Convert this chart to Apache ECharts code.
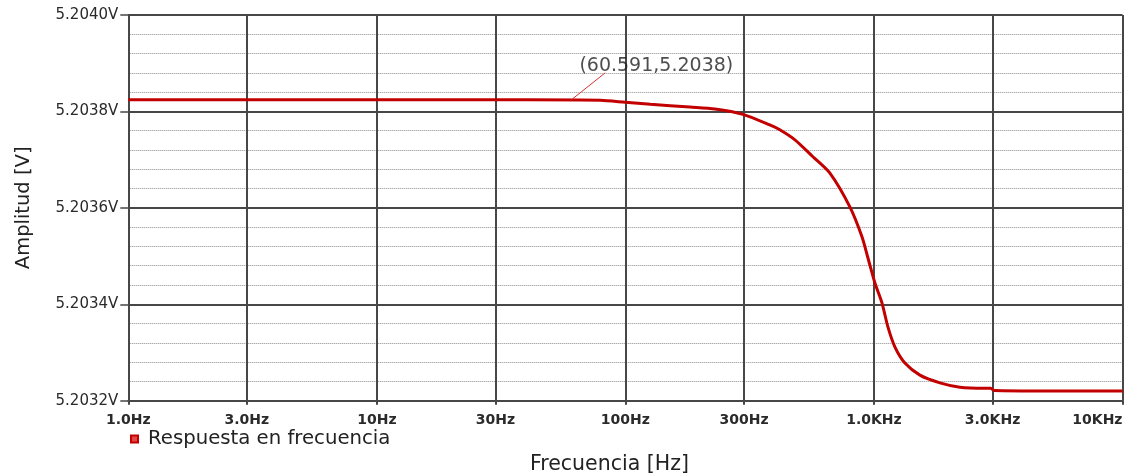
<!DOCTYPE html>
<html>
<head>
<meta charset="utf-8">
<title>Respuesta en frecuencia</title>
<script src="https://cdn.jsdelivr.net/npm/echarts@6/dist/echarts.min.js"></script>
<style>
  html, body { margin: 0; padding: 0; background: #fff; }
  #chart { width: 1132px; height: 475px; }
</style>
</head>
<body>
<div id="chart"></div>
<script>
// Frequency sweep (Hz) and measured output amplitude (V)
const freqHz = [1, 10, 40, 79, 100, 126, 182, 229, 297, 381, 418, 481, 568, 665, 800,
  895, 946, 1009, 1077, 1138, 1215, 1332, 1531, 1842, 2217, 2795, 2950, 3050, 5000, 10000];
const amplitudeV = [5.203824, 5.203824, 5.203824, 5.203823, 5.203819, 5.203815, 5.203809,
  5.203805, 5.203794, 5.203772, 5.203762, 5.203741, 5.203706, 5.203672, 5.203602,
  5.203540, 5.203496, 5.203444, 5.203403, 5.203353, 5.203311, 5.203278, 5.203253,
  5.203237, 5.203228, 5.203226, 5.203226, 5.203221, 5.203220, 5.203220];

// Cursor read-out on the curve
const cursorFreq = 60.591;
const cursorAmp = 5.203824;

// Frequency ticks and their labels
const freqTicks = [1, 3, 10, 30, 100, 300, 1000, 3000, 10000];
const freqTickLabels = ['1.0Hz', '3.0Hz', '10Hz', '30Hz', '100Hz', '300Hz', '1.0KHz', '3.0KHz', '10KHz'];

const seriesName = 'Respuesta en frecuencia';
const FONT = 'DejaVu Sans';
const GRID = '#474747';
const RED = '#c30000';

const chart = echarts.init(document.getElementById('chart'), null, { renderer: 'canvas' });

chart.setOption({
  backgroundColor: '#ffffff',
  animation: false,
  grid: { left: 128.3, right: 9.5, top: 15, bottom: 74.3, containLabel: false, outerBoundsMode: 'none' },
  legend: {
    left: 130, top: 429, padding: 0,
    icon: 'rect', itemWidth: 7, itemHeight: 7,
    data: [seriesName],
    textStyle: { fontFamily: FONT, fontSize: 19.7, color: '#222', padding: [0, 0, 0, 5] }
  },
  xAxis: {
    type: 'log', logBase: 10, min: 1, max: 10000,
    name: 'Frecuencia [Hz]', nameLocation: 'middle', nameGap: 53,
    nameTextStyle: { fontFamily: FONT, fontSize: 20.5, color: '#222', padding: [0, 32, 0, 0] },
    axisLine: { show: true, onZero: false, lineStyle: { color: GRID, width: 2 } },
    axisTick: { show: true, length: 4, customValues: freqTicks, lineStyle: { color: GRID, width: 2 } },
    axisLabel: {
      customValues: freqTicks, margin: 13, alignMaxLabel: 'right',
      fontFamily: FONT, fontSize: 14, fontWeight: 'bold', color: '#2a2a2a',
      formatter: v => freqTickLabels[freqTicks.indexOf(Math.round(v))] || ''
    },
    splitLine: { show: true, lineStyle: { color: GRID, width: 2 } },
    minorTick: { show: false },
    minorSplitLine: { show: false }
  },
  yAxis: {
    type: 'value', min: 5.2032, max: 5.2040, interval: 0.0002,
    name: 'Amplitud [V]', nameLocation: 'middle', nameGap: 94, nameRotate: 90,
    nameTextStyle: { fontFamily: FONT, fontSize: 19.5, color: '#222' },
    axisLine: { show: true, lineStyle: { color: GRID, width: 2 } },
    axisTick: { show: true, length: 8, lineStyle: { color: GRID, width: 1.5 } },
    axisLabel: {
      margin: 10, fontFamily: FONT, fontSize: 15, color: '#2a2a2a',
      formatter: v => v.toFixed(4) + 'V'
    },
    splitLine: { show: true, lineStyle: { color: GRID, width: 2 } },
    minorTick: { show: false, splitNumber: 5 },
    minorSplitLine: { show: true, lineStyle: { color: '#8c8c8c', width: 1, type: [1, 1] } }
  },
  series: [
    {
      name: seriesName,
      type: 'line',
      data: freqHz.map((f, i) => [f, amplitudeV[i]]),
      showSymbol: false,
      smooth: 0.25,
      lineStyle: { color: RED, width: 3 },
      itemStyle: { color: '#e04848', borderColor: RED, borderWidth: 1.5 },
      z: 3
    },
    {
      // read-out text next to the cursor
      name: 'cursor-text',
      type: 'scatter',
      data: [[cursorFreq, cursorAmp]],
      symbolSize: 0,
      silent: true,
      label: {
        show: true, position: 'inside',
        fontFamily: FONT, fontSize: 19, color: '#222',
        formatter: p => '(' + p.value[0].toFixed(3) + ',' + p.value[1].toFixed(4) + ')'
      },
      labelLayout: { dx: 85, dy: -34 },
      z: 4
    },
    {
      // thin leader from the curve up to the read-out
      name: 'cursor-leader',
      type: 'scatter',
      data: [[cursorFreq, cursorAmp]],
      symbolSize: 0,
      silent: true,
      label: { show: true, position: 'inside', formatter: ' ', fontSize: 1, padding: 0 },
      labelLayout: { dx: 34, dy: -27 },
      labelLine: { show: true, lineStyle: { color: '#d83030', width: 1 } },
      z: 4
    }
  ]
});
</script>
</body>
</html>
